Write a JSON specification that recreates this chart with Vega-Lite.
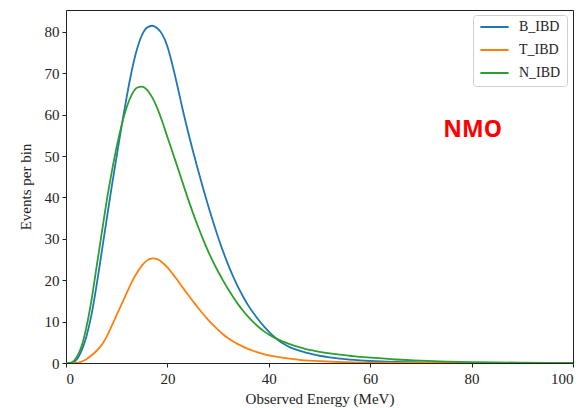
{
  "$schema": "https://vega.github.io/schema/vega-lite/v6.json",
  "width": 507,
  "height": 353,
  "autosize": "none",
  "padding": {"left": 66, "top": 10, "right": 14, "bottom": 45},
  "background": "white",
  "config": {
    "view": {"stroke": "#222", "strokeWidth": 1},
    "font": "Liberation Serif, serif",
    "axis": {
      "domain": false,
      "grid": false,
      "tickColor": "#222",
      "tickSize": 4,
      "labelFont": "Liberation Serif, serif",
      "labelFontSize": 15,
      "labelColor": "#222",
      "titleFont": "Liberation Serif, serif",
      "titleFontSize": 15,
      "titleFontWeight": "normal",
      "titleColor": "#222"
    }
  },
  "datasets": {
    "curves": [
      {"E":0,"series":"B_IBD","v":0},{"E":1,"series":"B_IBD","v":0.05},{"E":2,"series":"B_IBD","v":0.7},{"E":3,"series":"B_IBD","v":2.8},{"E":4,"series":"B_IBD","v":6.3},{"E":5,"series":"B_IBD","v":11.5},{"E":6,"series":"B_IBD","v":18.5},{"E":7,"series":"B_IBD","v":26.5},{"E":8,"series":"B_IBD","v":34.5},{"E":9,"series":"B_IBD","v":42.5},{"E":10,"series":"B_IBD","v":50},{"E":11,"series":"B_IBD","v":57.5},{"E":12,"series":"B_IBD","v":64.5},{"E":13,"series":"B_IBD","v":70.8},{"E":14,"series":"B_IBD","v":75.8},{"E":15,"series":"B_IBD","v":79.3},{"E":16,"series":"B_IBD","v":81.1},{"E":17,"series":"B_IBD","v":81.5},{"E":18,"series":"B_IBD","v":80.9},{"E":19,"series":"B_IBD","v":79.4},{"E":20,"series":"B_IBD","v":76.5},{"E":21,"series":"B_IBD","v":72},{"E":22,"series":"B_IBD","v":66.8},{"E":23,"series":"B_IBD","v":61.3},{"E":24,"series":"B_IBD","v":56.2},{"E":25,"series":"B_IBD","v":51.4},{"E":26,"series":"B_IBD","v":46.8},{"E":27,"series":"B_IBD","v":42.4},{"E":28,"series":"B_IBD","v":38.2},{"E":29,"series":"B_IBD","v":34.2},{"E":30,"series":"B_IBD","v":30.4},{"E":31,"series":"B_IBD","v":26.9},{"E":32,"series":"B_IBD","v":23.7},{"E":33,"series":"B_IBD","v":20.8},{"E":34,"series":"B_IBD","v":18.2},{"E":35,"series":"B_IBD","v":15.9},{"E":36,"series":"B_IBD","v":13.8},{"E":37,"series":"B_IBD","v":12.0},{"E":38,"series":"B_IBD","v":10.4},{"E":39,"series":"B_IBD","v":8.9},{"E":40,"series":"B_IBD","v":7.6},{"E":41,"series":"B_IBD","v":6.4},{"E":42,"series":"B_IBD","v":5.4},{"E":43,"series":"B_IBD","v":4.6},{"E":44,"series":"B_IBD","v":3.9},{"E":45,"series":"B_IBD","v":3.4},{"E":46,"series":"B_IBD","v":3.0},{"E":47,"series":"B_IBD","v":2.65},{"E":48,"series":"B_IBD","v":2.3},{"E":49,"series":"B_IBD","v":2.0},{"E":50,"series":"B_IBD","v":1.75},{"E":52,"series":"B_IBD","v":1.35},{"E":54,"series":"B_IBD","v":1.05},{"E":56,"series":"B_IBD","v":0.8},{"E":58,"series":"B_IBD","v":0.62},{"E":60,"series":"B_IBD","v":0.48},{"E":65,"series":"B_IBD","v":0.25},{"E":70,"series":"B_IBD","v":0.13},{"E":75,"series":"B_IBD","v":0.07},{"E":80,"series":"B_IBD","v":0.04},{"E":85,"series":"B_IBD","v":0.02},{"E":90,"series":"B_IBD","v":0.01},{"E":95,"series":"B_IBD","v":0.005},{"E":100,"series":"B_IBD","v":0},

      {"E":0,"series":"T_IBD","v":0},{"E":1,"series":"T_IBD","v":0},{"E":2,"series":"T_IBD","v":0.05},{"E":3,"series":"T_IBD","v":0.3},{"E":4,"series":"T_IBD","v":0.9},{"E":5,"series":"T_IBD","v":1.8},{"E":6,"series":"T_IBD","v":2.9},{"E":7,"series":"T_IBD","v":4.3},{"E":8,"series":"T_IBD","v":6.3},{"E":9,"series":"T_IBD","v":8.9},{"E":10,"series":"T_IBD","v":11.6},{"E":11,"series":"T_IBD","v":14.3},{"E":12,"series":"T_IBD","v":17},{"E":13,"series":"T_IBD","v":19.6},{"E":14,"series":"T_IBD","v":21.8},{"E":15,"series":"T_IBD","v":23.6},{"E":16,"series":"T_IBD","v":24.8},{"E":17,"series":"T_IBD","v":25.3},{"E":18,"series":"T_IBD","v":25.1},{"E":19,"series":"T_IBD","v":24.3},{"E":20,"series":"T_IBD","v":23.1},{"E":21,"series":"T_IBD","v":21.6},{"E":22,"series":"T_IBD","v":20.0},{"E":23,"series":"T_IBD","v":18.3},{"E":24,"series":"T_IBD","v":16.6},{"E":25,"series":"T_IBD","v":15},{"E":26,"series":"T_IBD","v":13.4},{"E":27,"series":"T_IBD","v":11.9},{"E":28,"series":"T_IBD","v":10.5},{"E":29,"series":"T_IBD","v":9.2},{"E":30,"series":"T_IBD","v":8.0},{"E":31,"series":"T_IBD","v":6.9},{"E":32,"series":"T_IBD","v":6.0},{"E":33,"series":"T_IBD","v":5.2},{"E":34,"series":"T_IBD","v":4.5},{"E":35,"series":"T_IBD","v":3.9},{"E":36,"series":"T_IBD","v":3.35},{"E":37,"series":"T_IBD","v":2.9},{"E":38,"series":"T_IBD","v":2.5},{"E":39,"series":"T_IBD","v":2.15},{"E":40,"series":"T_IBD","v":1.85},{"E":42,"series":"T_IBD","v":1.4},{"E":44,"series":"T_IBD","v":1.05},{"E":46,"series":"T_IBD","v":0.78},{"E":48,"series":"T_IBD","v":0.58},{"E":50,"series":"T_IBD","v":0.43},{"E":55,"series":"T_IBD","v":0.2},{"E":60,"series":"T_IBD","v":0.1},{"E":70,"series":"T_IBD","v":0.02},{"E":80,"series":"T_IBD","v":0},{"E":100,"series":"T_IBD","v":0},

      {"E":0,"series":"N_IBD","v":0},{"E":1,"series":"N_IBD","v":0.1},{"E":2,"series":"N_IBD","v":1.2},{"E":3,"series":"N_IBD","v":3.8},{"E":4,"series":"N_IBD","v":8.5},{"E":5,"series":"N_IBD","v":15},{"E":6,"series":"N_IBD","v":23},{"E":7,"series":"N_IBD","v":31},{"E":8,"series":"N_IBD","v":39},{"E":9,"series":"N_IBD","v":46},{"E":10,"series":"N_IBD","v":52.3},{"E":11,"series":"N_IBD","v":57.6},{"E":12,"series":"N_IBD","v":61.9},{"E":13,"series":"N_IBD","v":64.9},{"E":14,"series":"N_IBD","v":66.5},{"E":15,"series":"N_IBD","v":66.8},{"E":16,"series":"N_IBD","v":66},{"E":17,"series":"N_IBD","v":64.2},{"E":18,"series":"N_IBD","v":61.6},{"E":19,"series":"N_IBD","v":58.3},{"E":20,"series":"N_IBD","v":54.6},{"E":21,"series":"N_IBD","v":51},{"E":22,"series":"N_IBD","v":47.3},{"E":23,"series":"N_IBD","v":43.6},{"E":24,"series":"N_IBD","v":39.9},{"E":25,"series":"N_IBD","v":36.4},{"E":26,"series":"N_IBD","v":33.1},{"E":27,"series":"N_IBD","v":30},{"E":28,"series":"N_IBD","v":27.1},{"E":29,"series":"N_IBD","v":24.5},{"E":30,"series":"N_IBD","v":22.1},{"E":31,"series":"N_IBD","v":19.9},{"E":32,"series":"N_IBD","v":17.8},{"E":33,"series":"N_IBD","v":15.9},{"E":34,"series":"N_IBD","v":14.1},{"E":35,"series":"N_IBD","v":12.5},{"E":36,"series":"N_IBD","v":11.1},{"E":37,"series":"N_IBD","v":9.8},{"E":38,"series":"N_IBD","v":8.7},{"E":39,"series":"N_IBD","v":7.7},{"E":40,"series":"N_IBD","v":6.9},{"E":41,"series":"N_IBD","v":6.2},{"E":42,"series":"N_IBD","v":5.6},{"E":43,"series":"N_IBD","v":5.1},{"E":44,"series":"N_IBD","v":4.6},{"E":45,"series":"N_IBD","v":4.2},{"E":46,"series":"N_IBD","v":3.85},{"E":47,"series":"N_IBD","v":3.5},{"E":48,"series":"N_IBD","v":3.2},{"E":49,"series":"N_IBD","v":2.95},{"E":50,"series":"N_IBD","v":2.7},{"E":52,"series":"N_IBD","v":2.3},{"E":54,"series":"N_IBD","v":2.0},{"E":56,"series":"N_IBD","v":1.75},{"E":58,"series":"N_IBD","v":1.5},{"E":60,"series":"N_IBD","v":1.3},{"E":65,"series":"N_IBD","v":0.85},{"E":70,"series":"N_IBD","v":0.55},{"E":75,"series":"N_IBD","v":0.35},{"E":80,"series":"N_IBD","v":0.22},{"E":85,"series":"N_IBD","v":0.14},{"E":90,"series":"N_IBD","v":0.09},{"E":95,"series":"N_IBD","v":0.05},{"E":100,"series":"N_IBD","v":0.03}
    ],
    "note": [{"E": 80.2, "v": 56.3, "label": "NMO"}]
  },
  "layer": [
    {
      "data": {"name": "curves"},
      "mark": {"type": "line", "strokeWidth": 1.8, "interpolate": "monotone", "clip": true},
      "encoding": {
        "x": {
          "field": "E", "type": "quantitative",
          "scale": {"domain": [0, 100], "nice": false},
          "axis": {"values": [0, 20, 40, 60, 80, 100], "title": "Observed Energy (MeV)", "labelPadding": 4, "titlePadding": 5}
        },
        "y": {
          "field": "v", "type": "quantitative",
          "scale": {"domain": [0, 85.3], "nice": false},
          "axis": {"values": [0, 10, 20, 30, 40, 50, 60, 70, 80], "title": "Events per bin", "labelPadding": 3, "titlePadding": 11}
        },
        "color": {
          "field": "series", "type": "nominal",
          "scale": {"domain": ["B_IBD", "T_IBD", "N_IBD"], "range": ["#1f77b4", "#ff7f0e", "#2ca02c"]},
          "legend": {
            "title": null,
            "orient": "none",
            "legendX": 407,
            "legendY": 5,
            "symbolType": "stroke",
            "symbolSize": 800,
            "symbolStrokeWidth": 2,
            "clipHeight": 12,
            "labelFont": "Liberation Serif, serif",
            "labelFontSize": 14,
            "labelColor": "#222",
            "rowPadding": 9,
            "padding": 6,
            "strokeColor": "#d0d0d0",
            "fillColor": "white",
            "cornerRadius": 3,
            "labelOffset": 9
          }
        },
        "order": {"field": "E", "type": "quantitative"}
      }
    },
    {
      "data": {"name": "note"},
      "mark": {"type": "text", "font": "Open Sans", "fontWeight": "bold", "fontSize": 23, "color": "#ff0000", "align": "center", "baseline": "middle"},
      "encoding": {
        "x": {"field": "E", "type": "quantitative"},
        "y": {"field": "v", "type": "quantitative"},
        "text": {"field": "label"}
      }
    }
  ]
}
